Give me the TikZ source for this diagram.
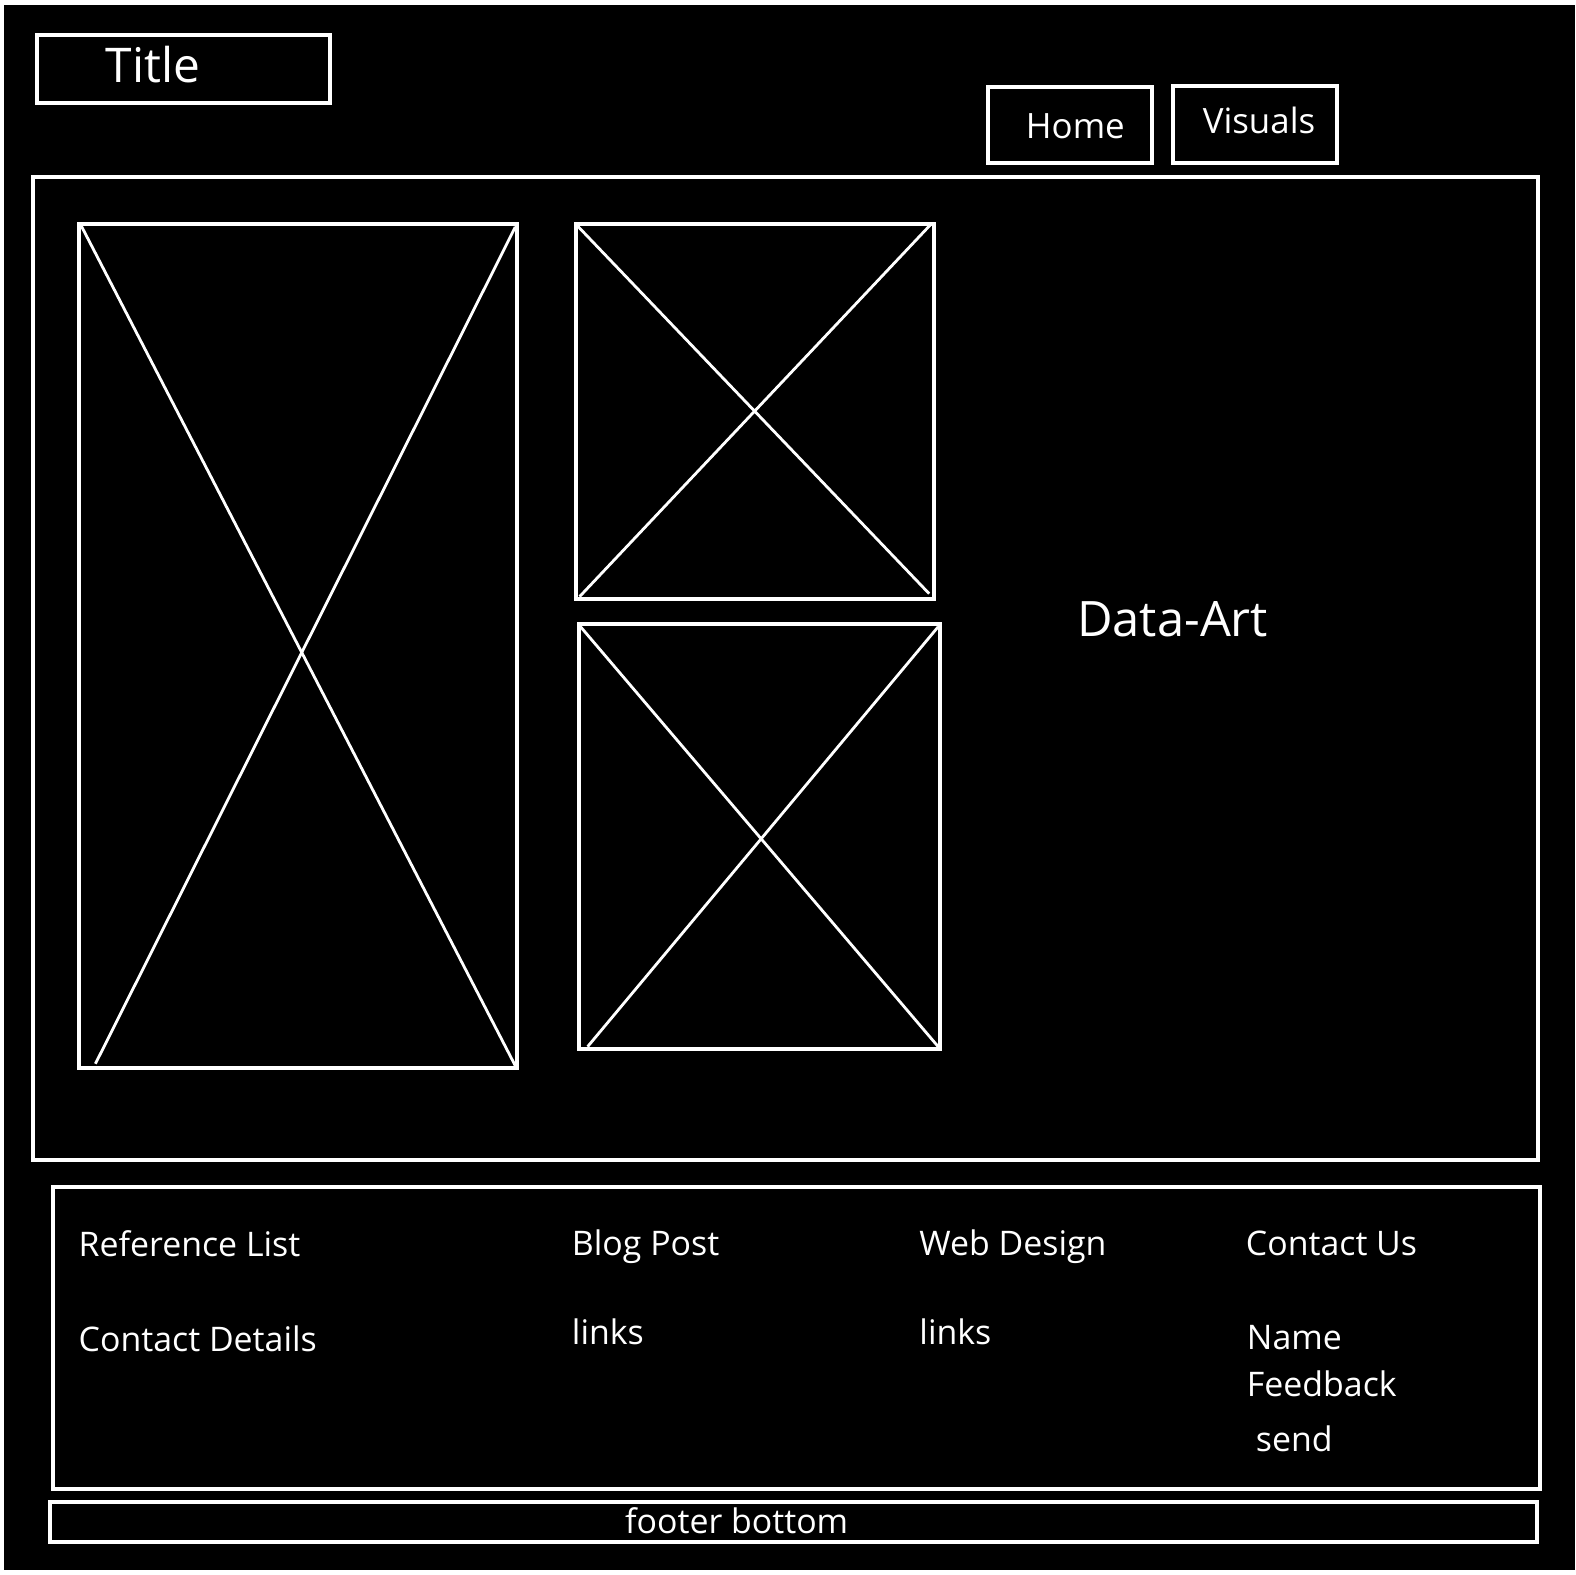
\documentclass[tikz,border=0pt]{standalone}
\usepackage{fontspec}
\setmainfont{Open Sans}

\begin{document}
\begin{tikzpicture}[x=0.50223bp,y=-0.50223bp,
    box/.style={draw=white,line width=2bp},
    cross/.style={draw=white,line width=1.4bp},
    txt/.style={text=white,inner sep=0pt,anchor=base west,font=\fontsize{17}{20}\selectfont},
    bigtxt/.style={txt,font=\fontsize{24}{28}\selectfont},
    navtxt/.style={txt,font=\fontsize{17.5}{21}\selectfont}]
    % page
    \useasboundingbox (0,0) rectangle (1568,1568);
    \fill[white] (0,0) rectangle (1568,1568);
    \fill[black] (4,5) rectangle (1568,1563);

    % header
    \draw[box] (37,35) rectangle (329,103);
    \node[bigtxt] (title) at (105,82) {Title};
    \draw[box] (984,87) rectangle (1147,162);
    \node[navtxt] (home) at (1021,138) {Home};
    \draw[box] (1168,86) rectangle (1331,162);
    \node[navtxt] (visuals) at (1197,133) {Visuals};

    % main area
    \draw[box] (33,176) rectangle (1531,1155);

    % image placeholders
    \draw[box] (79,223) rectangle (515,1063);
    \coordinate (bigA) at (81,225);  \coordinate (bigB) at (513,1061);
    \coordinate (bigC) at (513,226); \coordinate (bigD) at (95,1059);
    \draw[cross] (bigA) -- (bigB);
    \draw[cross] (bigC) -- (bigD);

    \draw[box] (573,223) rectangle (930,596);
    \coordinate (topA) at (575,225); \coordinate (topB) at (925,591);
    \coordinate (topC) at (928,222); \coordinate (topD) at (577,594);
    \draw[cross] (topA) -- (topB);
    \draw[cross] (topC) -- (topD);

    \draw[box] (576,621) rectangle (936,1044);
    \coordinate (lowA) at (578,624); \coordinate (lowB) at (934,1042);
    \coordinate (lowC) at (934,624); \coordinate (lowD) at (585,1042);
    \draw[cross] (lowA) -- (lowB);
    \draw[cross] (lowC) -- (lowD);

    \node[txt,font=\fontsize{24.5}{29}\selectfont] (dataart) at (1072,634) {Data-Art};

    % footer
    \draw[box] (53,1182) rectangle (1533,1482);
    \node[txt] (reflist) at (78,1251) {Reference List};
    \node[txt] (details) at (78,1345) {Contact Details};
    \node[txt] (blog) at (569,1250) {Blog Post};
    \node[txt] (bloglinks) at (569,1339) {links};
    \node[txt] (web) at (915,1250) {Web Design};
    \node[txt] (weblinks) at (915,1339) {links};
    \node[txt] (contact) at (1240,1250) {Contact Us};
    \node[txt] (name) at (1241,1343) {Name};
    \node[txt] (feedback) at (1241,1390) {Feedback};
    \node[txt] (send) at (1250,1445) {send};

    % bottom bar
    \draw[box] (50,1495) rectangle (1530,1535);
    \node[txt] (bottom) at (622,1527) {footer bottom};
\end{tikzpicture}
\end{document}
